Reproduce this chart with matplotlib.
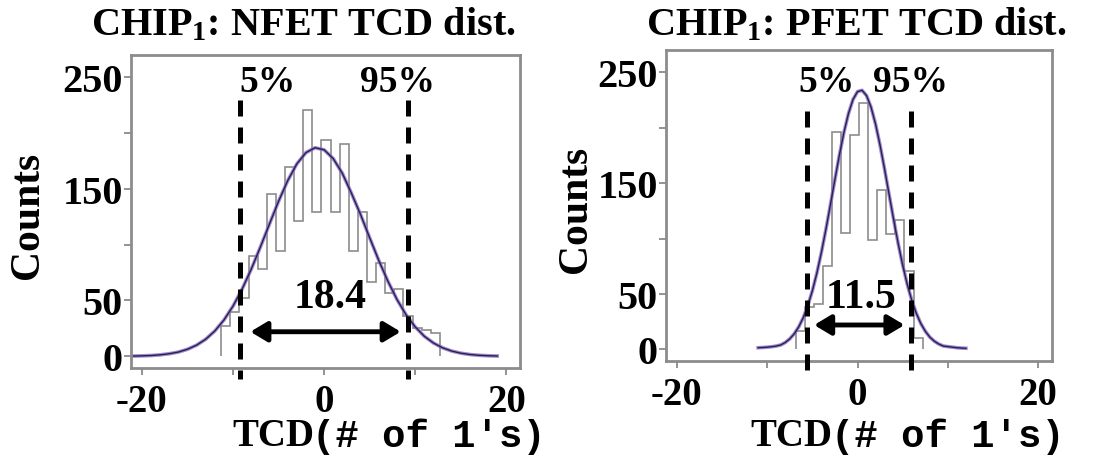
import numpy as np
import matplotlib.pyplot as plt

plt.rcParams.update({
    "font.family": "Liberation Serif",
    "font.weight": "bold",
    "axes.labelweight": "bold",
    "axes.unicode_minus": False,
    "mathtext.fontset": "custom",
    "mathtext.rm": "Liberation Serif:bold",
    "mathtext.bf": "Liberation Serif:bold",
})

# NFET threshold-count distribution (bin edges every 1 count)
nfet_edges = np.arange(-11.3, 12.71, 1.0)
nfet_counts = [27, 40, 52, 90, 78, 145, 94, 170, 121, 221, 129, 194,
               129, 190, 94, 129, 67, 84, 57, 60, 36, 25, 24, 21]
nfet_fit_x = list(range(-21, 20))
nfet_fit_y = [0.2, 0.4, 0.7, 1.3, 2.3, 3.8, 6.3, 10.0, 15.3, 22.7, 32.5,
              45.0, 60.3, 78.1, 97.9, 118.6, 139.0, 157.4, 172.4, 182.5,
              186.9, 185.0, 177.1, 163.9, 146.0, 126.9, 106.1, 85.8, 67.2,
              50.8, 37.1, 26.3, 17.9, 11.9, 7.6, 4.7, 2.8, 1.6, 0.9, 0.5, 0.25]
nfet_p5, nfet_p95 = -9.2, 9.2
nfet_spread = "18.4"

# PFET threshold-count distribution
pfet_edges = np.arange(-6.8, 7.21, 1.0)
pfet_counts = [17, 38, 41, 75, 196, 105, 193, 222, 99, 144, 104, 117, 71, 10]
pfet_fit_x = [-11, -10.5, -10, -9.5, -9, -8.5, -8, -7.5, -7, -6.5, -6, -5.5,
              -5, -4.5, -4, -3.5, -3, -2.5, -2, -1.5, -1, -0.5, 0, 0.5, 1,
              1.5, 2, 2.5, 3, 3.5, 4, 4.5, 5, 5.5, 6, 6.5, 7, 7.5, 8, 8.5,
              9, 9.5, 10, 10.5, 11, 11.5, 12]
pfet_fit_y = [1.5, 1.7, 2.0, 2.4, 3.0, 4.0, 6.2, 9.5, 14.1, 20.4, 28.7, 39.5,
              52.8, 68.8, 87.4, 108.2, 130.5, 153.3, 175.6, 195.8, 212.8,
              225.4, 232.5, 233.7, 228.9, 218.4, 203.1, 184.0, 162.4, 139.6,
              117.0, 95.5, 76.0, 58.9, 44.4, 32.7, 23.4, 16.4, 11.1, 7.4,
              4.8, 3.0, 2.5, 2.0, 1.5, 1.2, 1.0]
pfet_p5, pfet_p95 = -5.6, 5.9
pfet_spread = "11.5"

fig = plt.figure(figsize=(10.99, 4.6), dpi=100)
ax1 = fig.add_axes([0.1192, 0.1978, 0.354, 0.6805])
ax2 = fig.add_axes([0.606, 0.213, 0.351, 0.676])

panels = [
    (ax1, "NFET", nfet_edges, nfet_counts, nfet_fit_x, nfet_fit_y,
     nfet_p5, nfet_p95, nfet_spread, (-9.3, 8.0, 246), 230, (0.66, 53), 22,
     (-8.1, 8.4), -0.216),
    (ax2, "PFET", pfet_edges, pfet_counts, pfet_fit_x, pfet_fit_y,
     pfet_p5, pfet_p95, pfet_spread, (-3.4, 5.85, 242), 215, (0.4, 47), 22,
     (-4.8, 5.2), -0.185),
]

for (ax, name, edges, counts, fx, fy, p5, p95, spread,
     pct_pos, dash_top, spread_pos, arrow_y, arrow_x, label_x) in panels:
    ax.stairs(counts, edges, color="#8c8c8c", lw=1.2)
    ax.plot(fx, fy, color="#8a6fc0", lw=2.6, alpha=0.8)
    ax.plot(fx, fy, color="#2a1d55", lw=1.0)

    for xv in (p5, p95):
        ax.plot([xv, xv], [dash_top, -20], color="black", lw=3.6,
                linestyle=(0, (3.2, 2.2)), clip_on=False, zorder=4)

    ax.annotate("", xy=(arrow_x[0], arrow_y), xytext=(arrow_x[1], arrow_y),
                arrowprops=dict(arrowstyle="<|-|>,head_length=1.0,head_width=0.6",
                                color="black", lw=3.5, shrinkA=0, shrinkB=0))
    ax.text(spread_pos[0], spread_pos[1], spread, ha="center", va="center",
            fontsize=30)
    ax.text(pct_pos[0], pct_pos[2], "5%", ha="left" if name == "NFET" else "center",
            va="center", fontsize=27)
    ax.text(pct_pos[1], pct_pos[2], "95%", ha="center", va="center", fontsize=27)

    ax.set_xlim(-21.2, 21.5)
    ax.set_ylim(-10.5, 270)
    ax.set_xticks([-20, 0, 20])
    ax.set_xticks([-10, 10], minor=True)
    ax.set_yticks([0, 50, 150, 250])
    ax.set_yticks([100, 200], minor=True)
    ax.tick_params(axis="y", which="both", length=5, width=1.2, color="#808080",
                   labelsize=29, pad=1)
    ax.tick_params(axis="x", which="both", length=5, width=1.2, color="#808080",
                   labelsize=28, pad=6)
    for sp in ax.spines.values():
        sp.set_color("#8c8c8c")
        sp.set_linewidth(2.0)

    ax.set_ylabel("Counts", fontsize=30)
    ax.yaxis.set_label_coords(label_x, 0.49)

fig.text(0.276, 0.945, r"$\mathbf{CHIP_1}$: NFET TCD dist.", ha="center",
         va="center", fontsize=29)
fig.text(0.779, 0.945, r"$\mathbf{CHIP_1}$: PFET TCD dist.", ha="center",
         va="center", fontsize=29)

for x0 in (0.211, 0.683):
    fig.text(x0, 0.05, "TCD", ha="left", va="center", fontsize=28)
    fig.text(x0 + 0.073, 0.05, "(# of 1's)", ha="left", va="center",
             fontsize=28, family="Liberation Mono")

fig.savefig("out.png", dpi=100)
